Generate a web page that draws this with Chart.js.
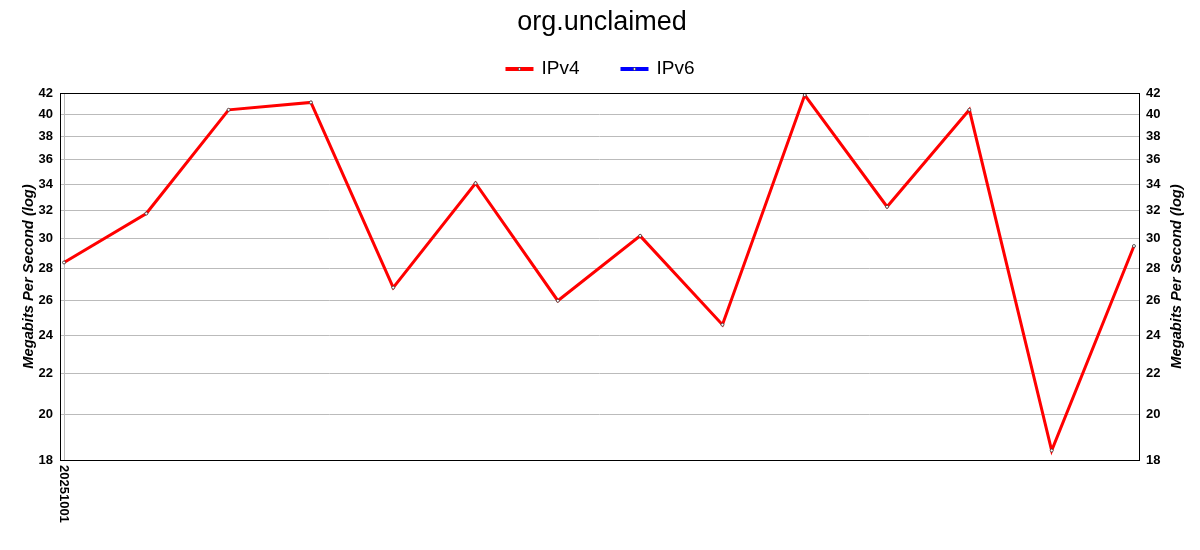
<!DOCTYPE html>
<html><head><meta charset="utf-8">
<script src="https://cdn.jsdelivr.net/npm/chart.js@4.4.1/dist/chart.umd.min.js"></script>
<style>html,body{margin:0;padding:0;background:#fff}#wrap{width:1200px;height:550px}</style>
</head><body><div id="wrap"><canvas id="c" width="1200" height="550"></canvas></div>
<script>
const titleText = "org.unclaimed";
const xLabels = ["20251001"];
const ipv4 = [28.4, 31.8, 40.4, 41.1, 26.8, 34.1, 26.0, 30.2, 24.6, 41.8, 32.3, 40.4, 18.4, 29.5];
const ipv6 = [];
const yTicks = [18, 20, 22, 24, 26, 28, 30, 32, 34, 36, 38, 40, 42];
const yTitle = "Megabits Per Second (log)";

const FONT = "'Liberation Sans', Arial, sans-serif";
const pts = ipv4.map((v, i) => ({x: i, y: v}));

const boxPlugin = {
  id: 'box',
  afterDraw(chart) {
    const {ctx, chartArea: a} = chart;
    ctx.save();
    ctx.strokeStyle = '#000'; ctx.lineWidth = 1;
    ctx.strokeRect(Math.round(a.left) + 0.5, Math.round(a.top) + 0.5, Math.round(a.right - a.left), Math.round(a.bottom - a.top));
    // rotated x labels (reading top-to-bottom)
    const xs = chart.scales.x;
    ctx.fillStyle = '#000';
    ctx.font = "bold 13px " + FONT;
    ctx.textAlign = 'left'; ctx.textBaseline = 'middle';
    xLabels.forEach((lab, i) => {
      const px = xs.getPixelForValue(i);
      ctx.save();
      ctx.translate(px, a.bottom + 5);
      ctx.rotate(Math.PI / 2);
      ctx.fillText(lab, 0, 0);
      ctx.restore();
    });
    // right axis title, reading bottom-to-top
    ctx.save();
    ctx.font = "italic bold 14.7px " + FONT;
    ctx.textAlign = 'center'; ctx.textBaseline = 'middle';
    ctx.translate(chart.scales.y2.right - 7, (a.top + a.bottom) / 2);
    ctx.rotate(-Math.PI / 2);
    ctx.fillText(yTitle, 0, 0);
    ctx.restore();
    // custom legend
    ctx.font = "19px " + FONT;
    const sw = 28, gap = 8, itemGap = 41, ly = 69;
    const ds = chart.data.datasets;
    const widths = ds.map(d => sw + gap + ctx.measureText(d.label).width);
    const total = widths.reduce((s, w) => s + w, 0) + itemGap * (ds.length - 1);
    let x = chart.width / 2 - total / 2;
    ds.forEach((d, i) => {
      ctx.fillStyle = d.borderColor;
      ctx.fillRect(x, ly - 2, sw, 4);
      ctx.beginPath(); ctx.arc(x + sw / 2, ly, 1.3, 0, Math.PI * 2);
      ctx.fillStyle = '#fff'; ctx.fill(); ctx.lineWidth = 0.7; ctx.strokeStyle = '#333'; ctx.stroke();
      ctx.fillStyle = '#000'; ctx.textAlign = 'left'; ctx.textBaseline = 'middle';
      ctx.fillText(d.label, x + sw + gap, ly);
      x += widths[i] + itemGap;
    });
    ctx.restore();
  }
};

new Chart(document.getElementById('c'), {
  type: 'line',
  data: {
    datasets: [
      {label: 'IPv4', data: pts, borderColor: '#ff0000', backgroundColor: '#ff0000', borderWidth: 3,
       pointRadius: 1.5, pointBackgroundColor: '#fff', pointBorderColor: '#333', pointBorderWidth: 0.8, tension: 0},
      {label: 'IPv6', data: ipv6, borderColor: '#0000ff', backgroundColor: '#0000ff', borderWidth: 3, pointRadius: 1.5}
    ]
  },
  options: {
    responsive: false, animation: false,
    layout: {padding: {left: 20, right: 16, top: 0, bottom: 0}},
    plugins: {
      title: {display: true, text: titleText, color: '#000', font: {family: FONT, size: 27, weight: 'normal'}, padding: {top: 6, bottom: 54.6}},
      legend: {display: false},
      tooltip: {enabled: false}
    },
    scales: {
      x: {type: 'linear', min: -0.0486, max: 13.061,
        afterBuildTicks(s) { s.ticks = xLabels.map((l, i) => ({value: i})); },
        afterFit(s) { s.height = 90; },
        ticks: {display: false},
        grid: {color: '#bbb', drawTicks: false},
        border: {display: false}
      },
      y: {type: 'logarithmic', position: 'left', min: 18, max: 42,
        afterBuildTicks(s) { s.ticks = yTicks.map(v => ({value: v})); },
        afterFit(s) { s.width = 40; },
        ticks: {color: '#000', font: {family: FONT, size: 13, weight: 'bold'}, padding: 7, callback: v => String(v), autoSkip: false},
        grid: {color: '#bbb', drawTicks: false},
        border: {display: false},
        title: {display: true, text: yTitle, color: '#000', font: {family: FONT, size: 14.7, weight: 'bold', style: 'italic'}, padding: 0}
      },
      y2: {type: 'logarithmic', position: 'right', min: 18, max: 42,
        afterBuildTicks(s) { s.ticks = yTicks.map(v => ({value: v})); },
        afterFit(s) { s.width = 45; },
        ticks: {color: '#000', font: {family: FONT, size: 13, weight: 'bold'}, padding: 7, callback: v => String(v), autoSkip: false},
        grid: {drawOnChartArea: false, drawTicks: false},
        border: {display: false},
        title: {display: false}
      }
    }
  },
  plugins: [boxPlugin]
});
</script></body></html>
